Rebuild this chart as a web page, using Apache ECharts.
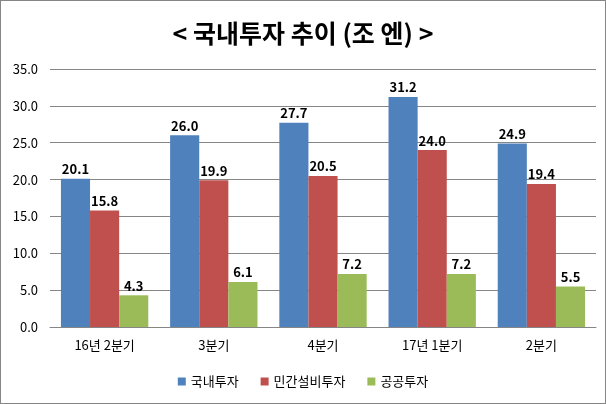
<!DOCTYPE html>
<html><head><meta charset="utf-8">
<script src="https://cdn.jsdelivr.net/npm/echarts@6/dist/echarts.min.js"></script>
<style>html,body{margin:0;padding:0;background:#fff}#c{width:606px;height:404px;box-sizing:border-box;border:1px solid #868686}</style>
</head><body><div id="c"></div>
<script>
const categories = ['16년 2분기', '3분기', '4분기', '17년 1분기', '2분기'];
const domestic = [20.1, 26.0, 27.7, 31.2, 24.9];
const privateEquip = [15.8, 19.9, 20.5, 24.0, 19.4];
const publicInv = [4.3, 6.1, 7.2, 7.2, 5.5];
const seriesNames = ['국내투자', '민간설비투자', '공공투자'];
const colors = ['#4F81BD', '#C0504D', '#9BBB59'];
const font = "'Noto Sans CJK KR', 'Malgun Gothic', sans-serif";
const chart = echarts.init(document.getElementById('c'));
const lbl = {show: true, position: 'top', formatter: p => p.value.toFixed(1), fontWeight: 'bold', fontSize: 13, color: '#000', fontFamily: font, distance: 3};
chart.setOption({
  animation: false,
  title: {text: '< 국내투자 추이 (조 엔) >', left: 'center', top: 15, textStyle: {fontSize: 25, fontWeight: 'bold', color: '#000', fontFamily: font}},
  legend: {bottom: 10, itemWidth: 8, itemHeight: 8, itemGap: 22, icon: 'rect', textStyle: {fontSize: 13, color: '#000', fontFamily: font}},
  grid: {left: 49, right: 9, top: 68, bottom: 76},
  xAxis: {type: 'category', data: categories, axisTick: {show: false}, axisLine: {lineStyle: {color: '#868686'}}, axisLabel: {color: '#000', fontSize: 13, fontFamily: font, margin: 12}},
  yAxis: {type: 'value', min: 0, max: 35, interval: 5, axisLabel: {formatter: v => v.toFixed(1), color: '#000', fontSize: 13, fontFamily: font, margin: 12}, splitLine: {lineStyle: {color: '#868686'}}, axisLine: {show: false}},
  series: [
    {name: seriesNames[0], type: 'bar', data: domestic, itemStyle: {color: colors[0]}, label: lbl, barGap: '0%', barCategoryGap: '20%'},
    {name: seriesNames[1], type: 'bar', data: privateEquip, itemStyle: {color: colors[1]}, label: lbl, barGap: '0%', barCategoryGap: '20%'},
    {name: seriesNames[2], type: 'bar', data: publicInv, itemStyle: {color: colors[2]}, label: lbl, barGap: '0%', barCategoryGap: '20%'}
  ]
});
</script></body></html>
